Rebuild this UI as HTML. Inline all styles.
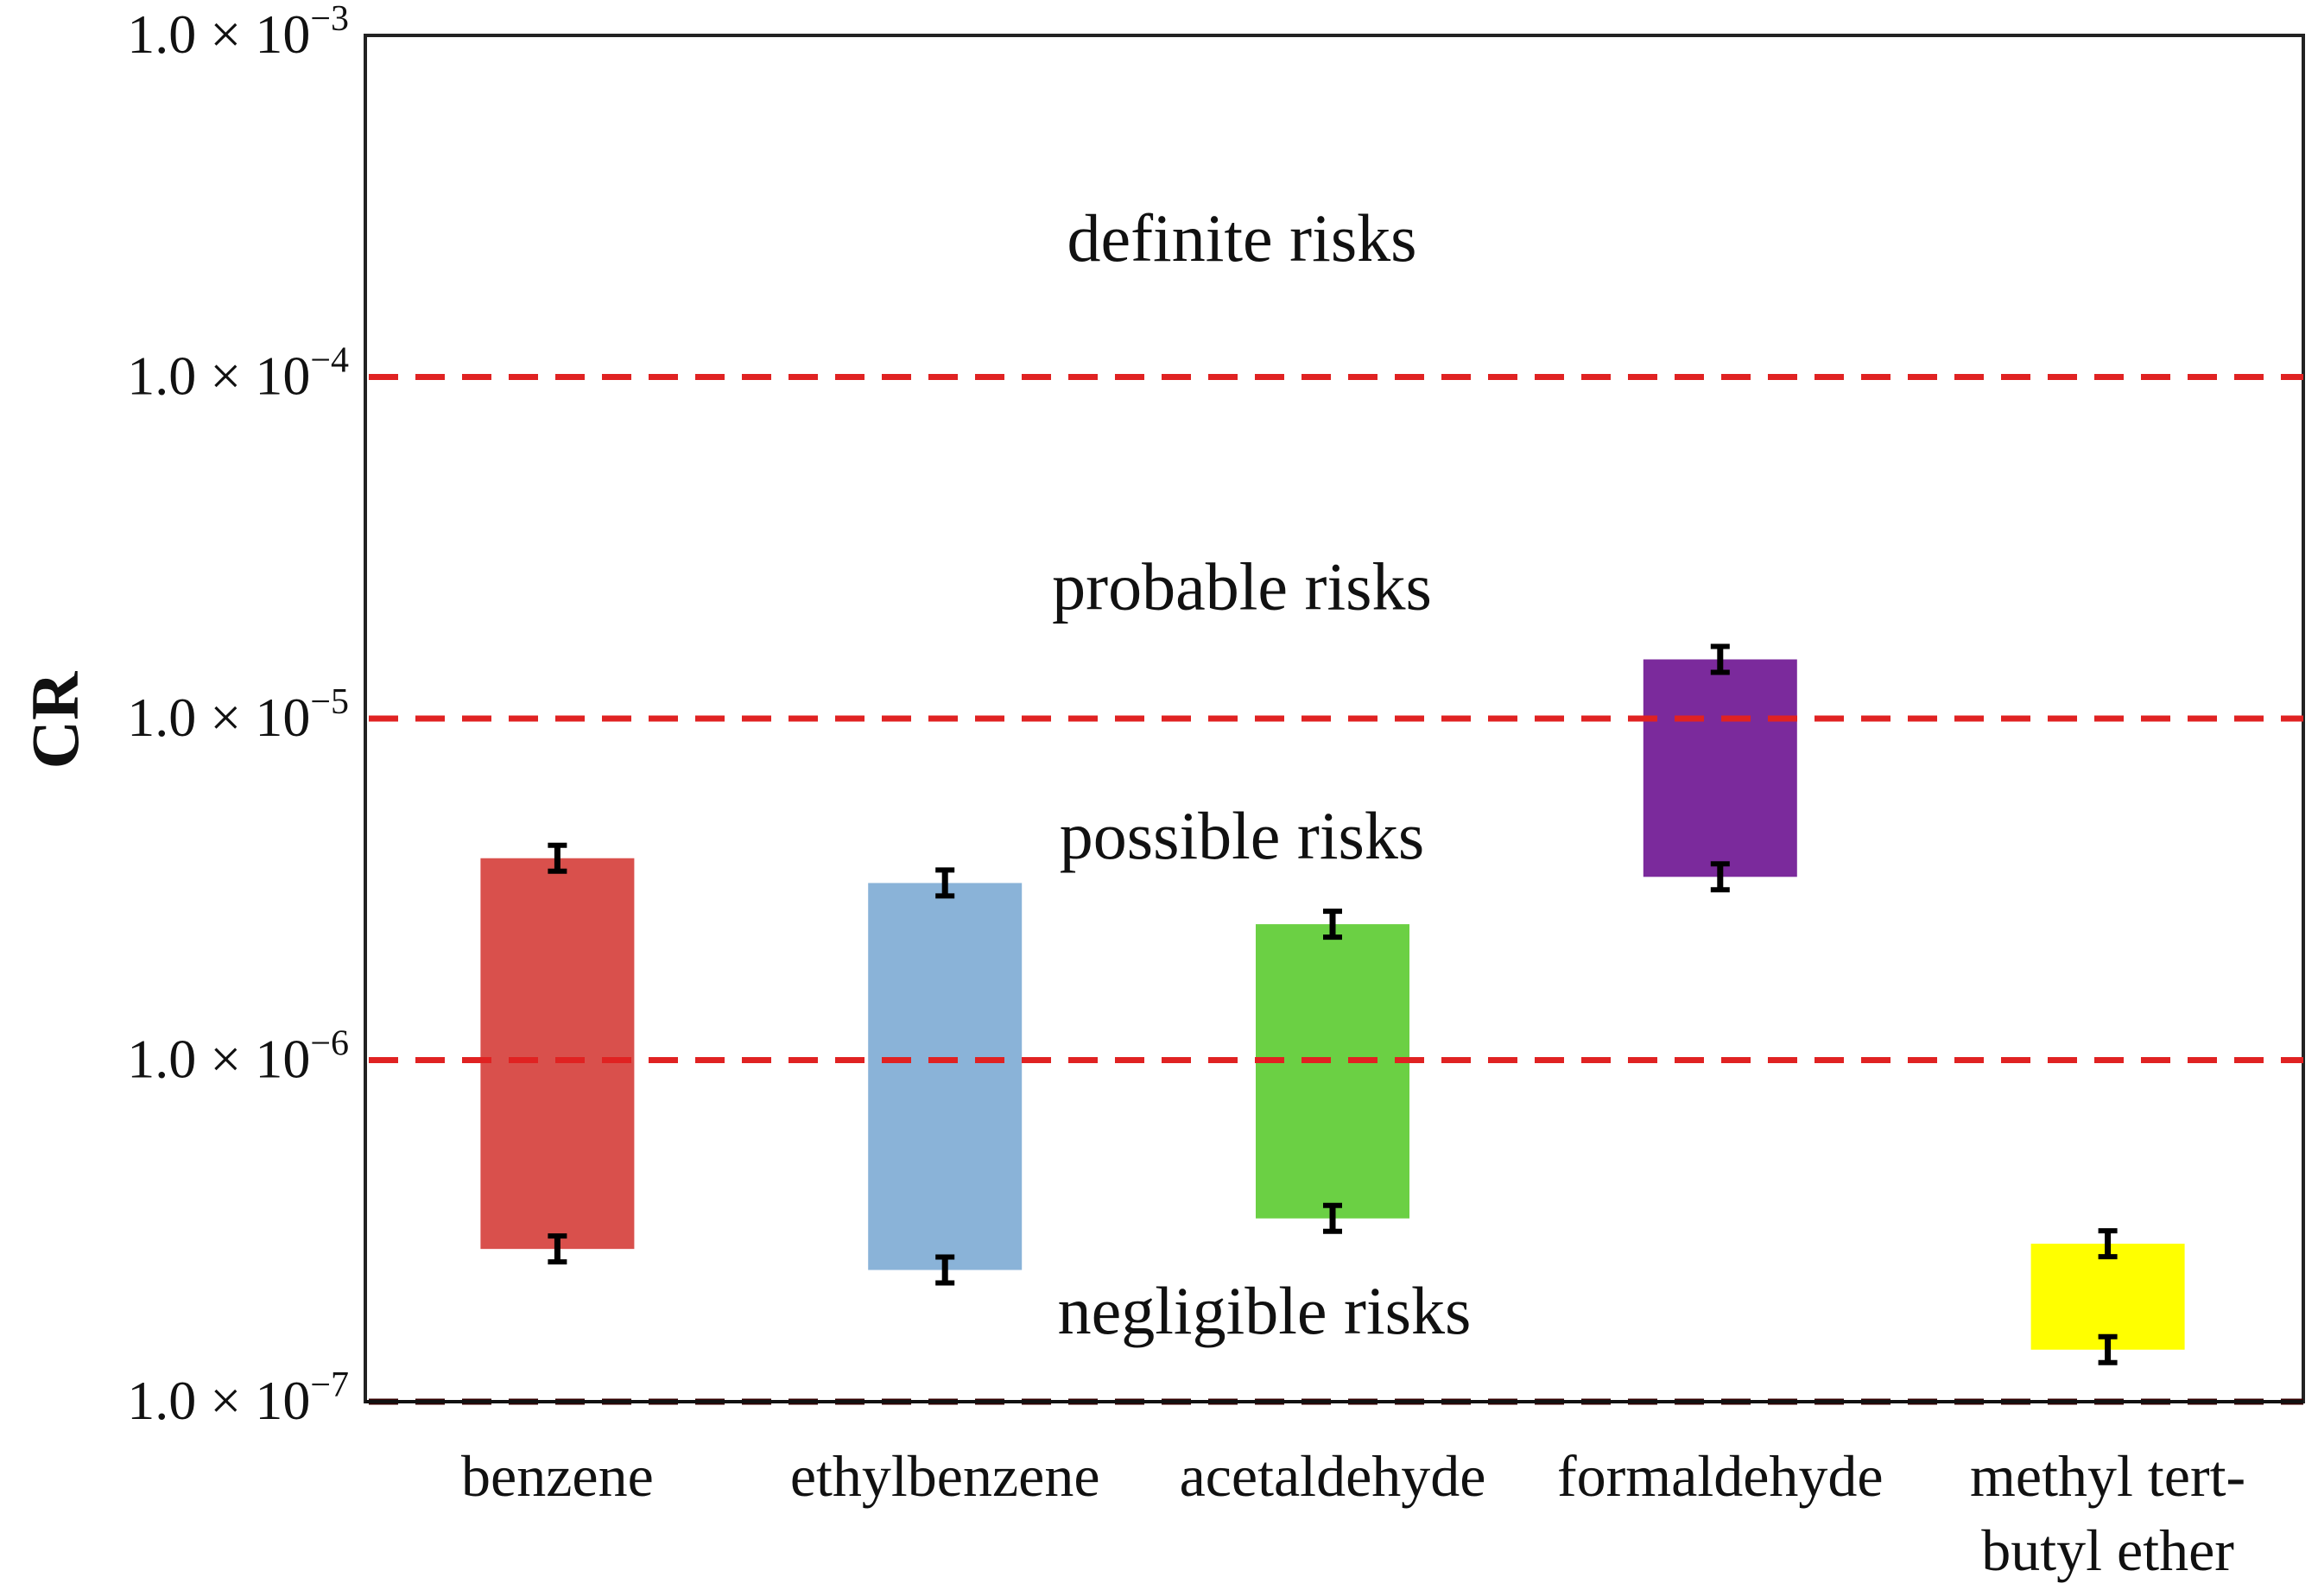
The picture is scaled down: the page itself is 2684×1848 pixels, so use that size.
<!DOCTYPE html>
<html><head><meta charset="utf-8"><style>
html,body{margin:0;padding:0;background:#fff;}
svg{display:block;font-family:"Liberation Serif",serif;}
</style></head><body>
<svg id="chart" width="2684" height="1848" viewBox="0 0 2684 1848" xmlns="http://www.w3.org/2000/svg"></svg>
<script>
const categories = ["benzene","ethylbenzene","acetaldehyde","formaldehyde","methyl tert-|butyl ether"];
const upperValues = [3.9e-6, 3.3e-6, 2.5e-6, 1.49e-5, 2.9e-7];
const lowerValues = [2.8e-7, 2.43e-7, 3.44e-7, 3.44e-6, 1.42e-7];
const barColors = ["#d9504c","#8ab3d8","#6bd044","#7b2a9c","#ffff00"];
const tickExponents = [-3,-4,-5,-6,-7];
const thresholdExponents = [-4,-5,-6,-7];
const zoneLabels = ["definite risks","probable risks","possible risks","negligible risks"];
const zoneLabelExps = [-3.66, -4.68, -5.41, -6.8];
const zoneLabelX = [1438,1438,1438,1464];

const NS="http://www.w3.org/2000/svg";
const svg=document.getElementById('chart');
const L=423,R=2667,T=41,B=1623;
const yMinExp=-7,yMaxExp=-3;
function y(v){return B-(Math.log10(v)-yMinExp)/(yMaxExp-yMinExp)*(B-T);}
function yE(e){return B-(e-yMinExp)/(yMaxExp-yMinExp)*(B-T);}
const slotW=(R-L)/5;
function xc(i){return L+slotW*(i+0.5)-2;}
function mk(tag,attrs,parent){const e=document.createElementNS(NS,tag);for(const k in attrs)e.setAttribute(k,attrs[k]);(parent||svg).appendChild(e);return e;}

const frame=mk('rect',{x:L,y:T,width:R-L,height:B-T,fill:'none',stroke:'#222','stroke-width':4});



categories.forEach((c,i)=>{
  const yt=y(upperValues[i]),yb=y(lowerValues[i]);
  const r=mk('rect',{x:xc(i)-89,y:yt,width:178,height:yb-yt,fill:barColors[i]});
  
  
  [yt,yb].forEach((yy,k)=>{
    const g=mk('g',{});
    
    
    const x=xc(i);
    mk('line',{x1:x,x2:x,y1:yy-15,y2:yy+15,stroke:'#000','stroke-width':7},g);
    mk('line',{x1:x-11,x2:x+11,y1:yy-15,y2:yy-15,stroke:'#000','stroke-width':6},g);
    mk('line',{x1:x-11,x2:x+11,y1:yy+15,y2:yy+15,stroke:'#000','stroke-width':6},g);
  });
});

thresholdExponents.forEach(e=>{
  const l=mk('line',{x1:L+4,x2:R,y1:yE(e),y2:yE(e),stroke:e===-7?'#300':'#e02222','stroke-width':7,'stroke-dasharray':'34 20'});
  
  
});
mk('line',{x1:L,x2:R,y1:B,y2:B,stroke:'#111','stroke-width':4});

tickExponents.forEach(e=>{
  const t=mk('text',{x:404,y:yE(e)+20,'text-anchor':'end','font-size':64,fill:'#111'});
  
  
  t.textContent='1.0 × 10';
  const s=mk('tspan',{dy:-26,'font-size':42},t);
  s.textContent='−'+(-e);
});

zoneLabels.forEach((z,i)=>{
  const t=mk('text',{x:zoneLabelX[i],y:yE(zoneLabelExps[i]),'text-anchor':'middle','font-size':78,fill:'#111'});
  
  
  t.textContent=z;
});

categories.forEach((c,i)=>{
  const parts=c.split('|');
  parts.forEach((p,k)=>{
    const t=mk('text',{x:xc(i),y:1732+k*86,'text-anchor':'middle','font-size':68,fill:'#111'});
    
    
    t.textContent=p;
  });
});

const yt=mk('text',{x:0,y:0,'text-anchor':'middle','font-size':78,'font-weight':'bold',fill:'#111',transform:'translate(90,834) rotate(-90)'});


yt.textContent='CR';
</script>
</body></html>
